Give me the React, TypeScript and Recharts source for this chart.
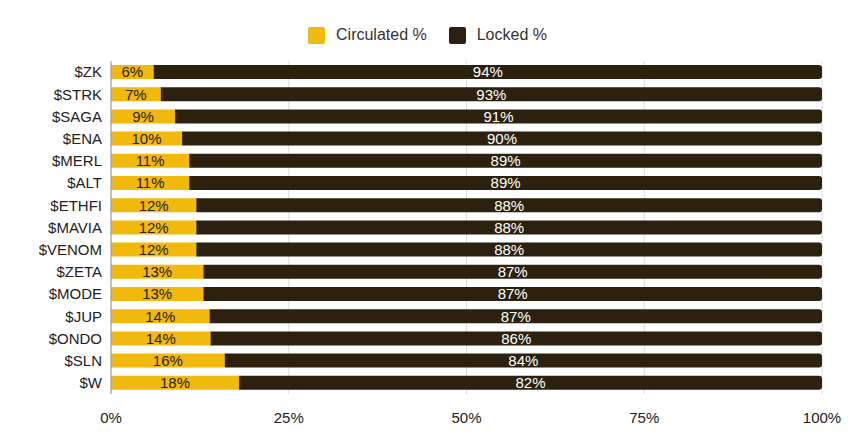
import { Bar, BarChart, CartesianGrid, LabelList, XAxis, YAxis } from 'recharts'

const tokens = [
  '$ZK', '$STRK', '$SAGA', '$ENA', '$MERL', '$ALT', '$ETHFI', '$MAVIA',
  '$VENOM', '$ZETA', '$MODE', '$JUP', '$ONDO', '$SLN', '$W',
]
const circulated = [6, 7, 9, 10, 11, 11, 12, 12, 12, 13, 13, 14, 14, 16, 18]
const locked = [94, 93, 91, 90, 89, 89, 88, 88, 88, 87, 87, 87, 86, 84, 82]
const xTicks = [0, 0.25, 0.5, 0.75, 1]

const YELLOW = '#F0B90B'
const DARK = '#2B210E'
const FONT = '"Liberation Sans", Arial, sans-serif'

const rows = tokens.map((name, i) => ({ name, circulated: circulated[i], locked: locked[i] }))

function LegendBox() {
  const item = (color: string, text: string) => (
    <div style={{ display: 'flex', alignItems: 'center', gap: 11 }}>
      <div style={{ width: 17, height: 17, background: color, borderRadius: 2 }} />
      <span style={{ fontSize: 16, color: '#333' }}>{text}</span>
    </div>
  )
  return (
    <div
      style={{
        position: 'absolute',
        top: 26,
        left: 0,
        width: 865,
        display: 'flex',
        justifyContent: 'center',
        gap: 22,
        fontFamily: FONT,
        marginLeft: -5,
      }}
    >
      {item(YELLOW, 'Circulated %')}
      {item(DARK, 'Locked %')}
    </div>
  )
}

export default function App() {
  return (
    <div style={{ position: 'absolute', left: 0, top: 0, width: 865, height: 439, background: '#fff', fontFamily: FONT }}>
      <LegendBox />
      <BarChart
        width={865}
        height={439}
        data={rows}
        layout="vertical"
        stackOffset="expand"
        barSize={14}
        margin={{ top: 61, right: 43, bottom: 0, left: 0 }}
      >
        <CartesianGrid horizontal={false} stroke="#dcdcdc" />
        <XAxis
          type="number"
          domain={[0, 1]}
          ticks={xTicks}
          tickFormatter={(v: number) => `${Math.round(v * 100)}%`}
          axisLine={false}
          tickLine={false}
          height={45}
          tick={{ fontSize: 15, fill: '#222', fontFamily: FONT }}
          tickMargin={12}
        />
        <YAxis
          type="category"
          dataKey="name"
          width={111}
          interval={0}
          axisLine={{ stroke: '#999' }}
          tickLine={false}
          tickMargin={3}
          tick={{ fontSize: 15, fill: '#222', fontFamily: FONT }}
        />
        <Bar dataKey="circulated" stackId="a" fill={YELLOW} isAnimationActive={false}>
          <LabelList
            dataKey="circulated"
            position="center"
            formatter={(v: number) => `${v}%`}
            style={{ fontSize: 15, fill: '#2a2108', fontFamily: FONT }}
          />
        </Bar>
        <Bar dataKey="locked" stackId="a" fill={DARK} radius={[0, 3, 3, 0]} isAnimationActive={false}>
          <LabelList
            dataKey="locked"
            position="center"
            formatter={(v: number) => `${v}%`}
            style={{ fontSize: 15, fill: '#fff', fontFamily: FONT }}
          />
        </Bar>
      </BarChart>
    </div>
  )
}
